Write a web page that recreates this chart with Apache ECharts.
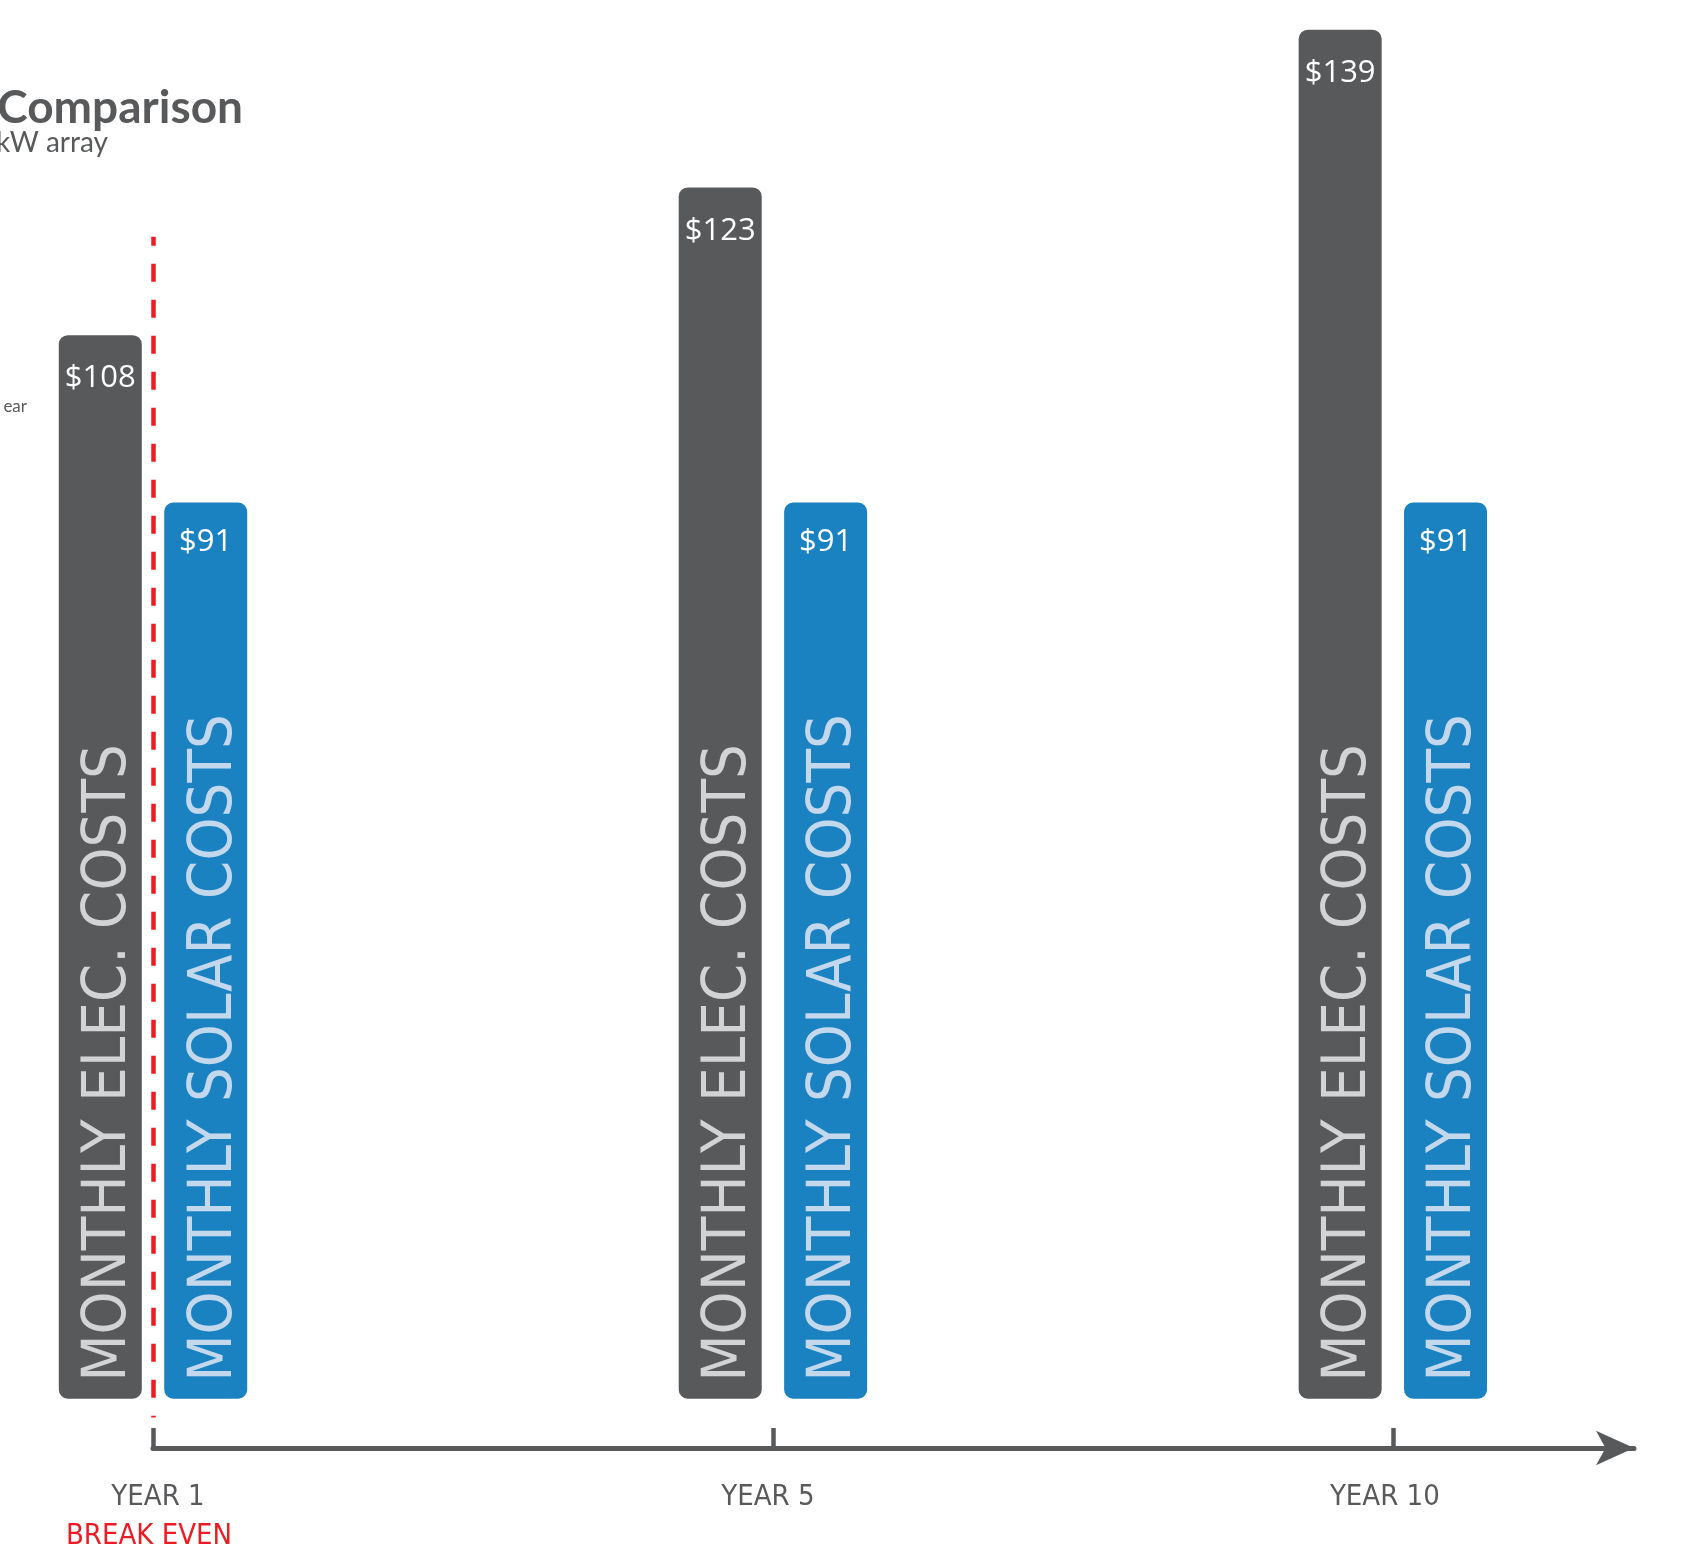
<!DOCTYPE html>
<html><head><meta charset="utf-8">
<script src="https://cdn.jsdelivr.net/npm/echarts@6/dist/echarts.min.js"></script>
<style>html,body{margin:0;padding:0;background:#fff}#c{width:1706px;height:1551px}</style>
</head><body><div id="c"></div>
<script>
// ---- data ----
const categories = ['YEAR 1', 'YEAR 5', 'YEAR 10'];
const categoryNotes = ['BREAK EVEN', '', ''];
const elecCosts = [108, 123, 139];
const solarCosts = [91, 91, 91];
const elecBarText = 'MONTHLY ELEC. COSTS';
const solarBarText = 'MONTHLY SOLAR COSTS';
const breakEvenIndex = 0;
const titleText = 'Comparison';
const subtitleText = 'kW array';
const sideNote = 'ear';

// ---- style ----
const GRAY = '#58595b';
const BLUE = '#1a82c0';
const RED = '#ed1c24';
const NARROW = '"Liberation Sans Narrow", "DejaVu Sans Condensed", sans-serif';
// small horizontal nudges of the axis label lines (px)
const labelNudge = [5, -5, -8];
const noteNudge = [-4, 0, 0];

const idx = categories.map((_, i) => i);
const elecData = elecCosts.map((v, i) => [i, v]);
const solarData = solarCosts.map((v, i) => [i, v]);

const xBase = { type: 'value', min: 0, max: 2.389, gridIndex: 0, splitLine: { show: false } };
const yBase = { type: 'value', min: -5, max: 140, gridIndex: 0, show: false, splitLine: { show: false } };

function valueLabel(dist) {
  return {
    show: true, position: 'insideTop', distance: dist, color: '#ffffff',
    fontFamily: '"Open Sans", sans-serif', fontSize: 31,
    formatter: p => '$' + p.value[1]
  };
}
function verticalLabel(text, color) {
  return {
    show: true, position: 'insideBottom', rotate: 90, align: 'left', verticalAlign: 'middle',
    distance: 17, offset: [0, 9], color: color, fontFamily: NARROW, fontSize: 61, formatter: text
  };
}
function nudgeStyle(base, d) {
  const pad = d >= 0 ? [0, 0, 0, 2 * d] : [0, -2 * d, 0, 0];
  return Object.assign({ padding: pad }, base);
}
const yStyle = { fontFamily: NARROW, fontSize: 29, color: GRAY, lineHeight: 39 };
const bStyle = { fontFamily: NARROW, fontSize: 29, color: RED, lineHeight: 39 };
const rich = {};
idx.forEach(i => {
  rich['y' + i] = nudgeStyle(yStyle, labelNudge[i]);
  rich['b' + i] = nudgeStyle(bStyle, noteNudge[i]);
});

const chart = echarts.init(document.getElementById('c'), null, { renderer: 'canvas' });
chart.setOption({
  animation: false,
  backgroundColor: '#ffffff',
  grid: { left: 153, right: 72, top: 20, bottom: 100, containLabel: false },
  xAxis: [
    Object.assign({}, xBase, {
      axisLine: { show: true, onZero: false, symbol: ['none', 'arrow'], symbolSize: [26, 38],
        lineStyle: { color: GRAY, width: 5 } },
      axisTick: { show: true, inside: true, length: 20, customValues: idx,
        lineStyle: { color: GRAY, width: 4.5 } },
      axisLabel: {
        show: true, customValues: idx, margin: 30,
        formatter: v => {
          const i = Math.round(v);
          let s = '{y' + i + '|' + categories[i] + '}';
          if (categoryNotes[i]) s += '\n{b' + i + '|' + categoryNotes[i] + '}';
          return s;
        },
        rich: rich
      }
    }),
    Object.assign({}, xBase, { show: false, axisLine: { onZero: false } })
  ],
  yAxis: [yBase, Object.assign({}, yBase)],
  series: [
    {
      name: 'elec', type: 'bar', xAxisIndex: 0, yAxisIndex: 0, data: elecData,
      barWidth: 83, barGap: '27%',
      itemStyle: { color: GRAY, borderRadius: 9 },
      label: valueLabel(28)
    },
    {
      name: 'solar', type: 'bar', xAxisIndex: 0, yAxisIndex: 0, data: solarData,
      barWidth: 83, barGap: '27%',
      itemStyle: { color: BLUE, borderRadius: 9 },
      label: valueLabel(24)
    },
    {
      name: 'elecText', type: 'bar', xAxisIndex: 1, yAxisIndex: 1, data: elecData,
      barWidth: 83, barGap: '27%', silent: true,
      itemStyle: { color: 'rgba(0,0,0,0)' },
      label: verticalLabel(elecBarText, '#d1d3d4')
    },
    {
      name: 'solarText', type: 'bar', xAxisIndex: 1, yAxisIndex: 1, data: solarData,
      barWidth: 83, barGap: '27%', silent: true,
      itemStyle: { color: 'rgba(0,0,0,0)' },
      label: verticalLabel(solarBarText, '#c4d8ed')
    },
    {
      name: 'breakEven', type: 'line', xAxisIndex: 0, yAxisIndex: 0, data: [],
      silent: true,
      markLine: {
        silent: true, symbol: ['none', 'none'],
        label: { show: false },
        lineStyle: { color: RED, width: 4.5, type: [18, 18], dashOffset: 9 },
        data: [[{ coord: [breakEvenIndex, 118] }, { coord: [breakEvenIndex, -1.9] }]]
      }
    }
  ],
  graphic: [
    { type: 'text', x: 243, y: 108, silent: true,
      style: { text: titleText, fill: GRAY, font: 'bold 46px Lato, sans-serif', align: 'right', verticalAlign: 'middle' } },
    { type: 'text', x: 108, y: 143, silent: true,
      style: { text: subtitleText, fill: GRAY, font: '28px Lato, sans-serif', align: 'right', verticalAlign: 'middle' } },
    { type: 'text', x: 27, y: 407, silent: true,
      style: { text: sideNote, fill: GRAY, font: '17px Lato, sans-serif', align: 'right', verticalAlign: 'middle' } }
  ]
});
</script></body></html>
